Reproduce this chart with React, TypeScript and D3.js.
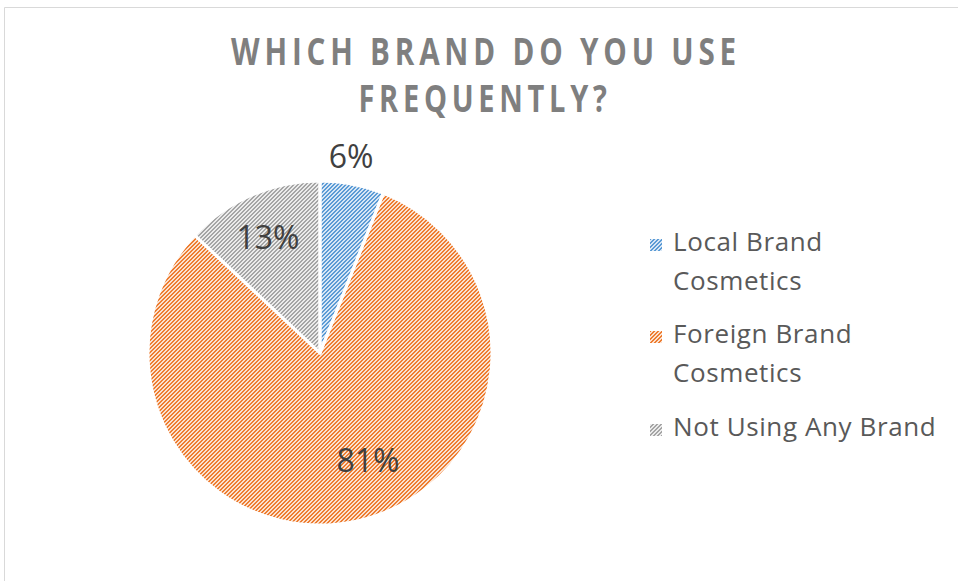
import React from "react";
import * as d3 from "d3";

const categories = ["Local Brand Cosmetics", "Foreign Brand Cosmetics", "Not Using Any Brand"];
const values = [6, 81, 13];
const labels = ["6%", "81%", "13%"];
const legendLines = [["Local Brand", "Cosmetics"], ["Foreign Brand", "Cosmetics"], ["Not Using Any Brand"]];
const titleLines = ["WHICH BRAND DO YOU USE", "FREQUENTLY?"];
const colors = ["#5B9BD5", "#ED7D31", "#A5A5A5"];
const tints = ["#d7e6f5", "#fbe1cf", "#ebebeb"];

export default function App() {
  const W = 958, H = 581;
  const cx = 320, cy = 353, r = 172;
  const pie = d3.pie<number>().sort(null).value((d) => d)(values);
  const arc = d3.arc<d3.PieArcDatum<number>>().innerRadius(0).outerRadius(r);
  const labelPos = [
    [351, 168],
    [368, 472],
    [268, 249],
  ];
  const legendBase = [251, 343, 436];
  const stripe = "M0,0h2v1h-2zM3,1h1v1h-1zM0,1h1v1h-1zM2,2h2v1h-2zM1,3h2v1h-2z";
  return (
    <svg width={W} height={H} style={{ position: "absolute", left: 0, top: 0, background: "#fff" }}>
      <defs>
        {colors.map((c, i) => (
          <pattern key={i} id={`p${i}`} width={4} height={4} patternUnits="userSpaceOnUse">
            <rect width={4} height={4} fill={tints[i]} />
            <path d={stripe} fill={c} shapeRendering="crispEdges" />
          </pattern>
        ))}
      </defs>
      <line x1={4.5} y1={7.5} x2={W} y2={7.5} stroke="#d9d9d9" />
      <line x1={4.5} y1={7.5} x2={4.5} y2={H} stroke="#d9d9d9" />
      <g fontFamily="'Open Sans', sans-serif" fontWeight="bold" fill="#7f7f7f" fontSize={37} textAnchor="middle" letterSpacing={6}>
        <text x={486} y={65} textLength={510} lengthAdjust="spacingAndGlyphs">{titleLines[0]}</text>
        <text x={485} y={112} textLength={253} lengthAdjust="spacingAndGlyphs">{titleLines[1]}</text>
      </g>
      <g transform={`translate(${cx},${cy})`}>
        {pie.map((p, i) => (
          <path key={i} d={arc(p) || ""} fill={`url(#p${i})`} />
        ))}
        {pie.map((p, i) => (
          <path key={"s" + i} d={arc(p) || ""} fill="none" stroke="#fff" strokeWidth={3} strokeLinejoin="round" />
        ))}
      </g>
      <g fontFamily="'Open Sans', sans-serif" fontSize={32} fill="#404040" textAnchor="middle">
        {labels.map((l, i) => (
          <text key={i} x={labelPos[i][0]} y={labelPos[i][1]}>{l}</text>
        ))}
      </g>
      <g fontFamily="'Open Sans', sans-serif" fontSize={26} fill="#595959" letterSpacing={0.6}>
        {categories.map((c, i) => (
          <g key={c}>
            <rect x={650} y={legendBase[i] - 12} width={12} height={12} fill={`url(#p${i})`} />
            {legendLines[i].map((t, j) => (
              <text key={j} x={673} y={legendBase[i] + j * 39}>{t}</text>
            ))}
          </g>
        ))}
      </g>
    </svg>
  );
}
